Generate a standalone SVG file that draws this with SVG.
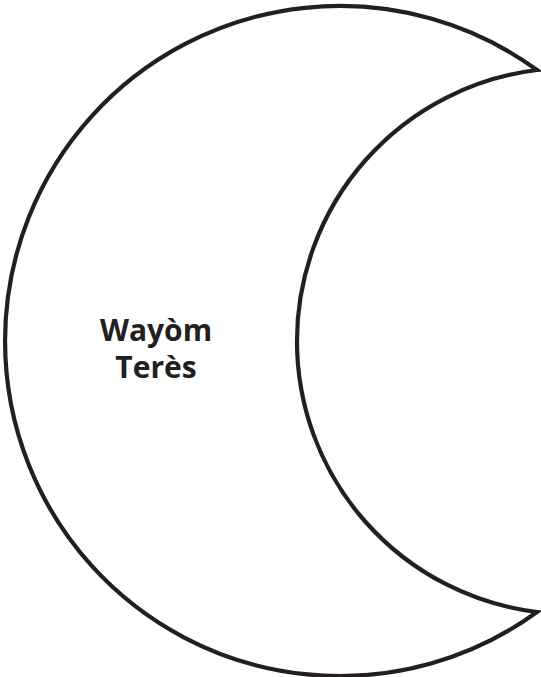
<svg xmlns="http://www.w3.org/2000/svg" width="541" height="677" viewBox="0 0 541 677">
<style>
.shape{fill:#fff;stroke:#231f20;stroke-width:4.2;stroke-linejoin:miter;stroke-miterlimit:20}
.lbl{font-family:"Open Sans","Noto Sans",sans-serif;font-weight:bold;font-size:30px;fill:#231f20;text-anchor:middle}
</style>
<rect width="541" height="677" fill="#fff"/>
<g id="moon">
<path class="shape" d="M537,70 A335,335 0 1 0 537,612 A273,273 0 0 1 537,70 Z"/>
<text class="lbl" x="156" y="341">Wayòm</text>
<text class="lbl" x="156" y="378">Terès</text>
</g>
<g id="connectors"></g>
</svg>
